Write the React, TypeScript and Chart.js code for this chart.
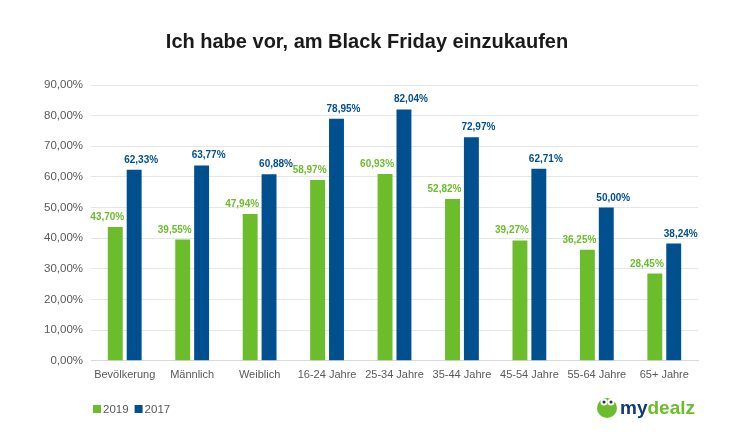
import { useEffect, useRef } from 'react';
import { Chart, registerables, Plugin } from 'chart.js';

Chart.register(...registerables);

const categories = [
  'Bevölkerung',
  'Männlich',
  'Weiblich',
  '16-24 Jahre',
  '25-34 Jahre',
  '35-44 Jahre',
  '45-54 Jahre',
  '55-64 Jahre',
  '65+ Jahre',
];
const values2019 = [43.7, 39.55, 47.94, 58.97, 60.93, 52.82, 39.27, 36.25, 28.45];
const values2017 = [62.33, 63.77, 60.88, 78.95, 82.04, 72.97, 62.71, 50.0, 38.24];
const yTicks = [0, 10, 20, 30, 40, 50, 60, 70, 80, 90];

const GREEN = '#6bbd2b';
const BLUE = '#00508f';
const FONT = '"Liberation Sans", Arial, sans-serif';

const fmt = (v: number) => v.toFixed(2).replace('.', ',') + '%';

// value labels above each bar, nudged outward like the original
const labelShift = [-8, 7];
const valueLabels: Plugin = {
  id: 'valueLabels',
  afterDatasetsDraw(chart) {
    const ctx = chart.ctx;
    ctx.save();
    ctx.font = `bold 10px ${FONT}`;
    ctx.textAlign = 'center';
    ctx.textBaseline = 'alphabetic';
    chart.data.datasets.forEach((ds, i) => {
      const meta = chart.getDatasetMeta(i);
      ctx.fillStyle = ds.backgroundColor as string;
      meta.data.forEach((bar: any, j) => {
        ctx.fillText(fmt(ds.data[j] as number), bar.x + labelShift[i], bar.y - 7);
      });
    });
    ctx.restore();
  },
};

// legend bottom-left and logo bottom-right
const footer: Plugin = {
  id: 'footer',
  afterDraw(chart) {
    const ctx = chart.ctx;
    const left = chart.chartArea.left;
    ctx.save();
    ctx.font = `11.5px ${FONT}`;
    ctx.textBaseline = 'middle';
    let x = left + 2;
    const y = 409;
    chart.data.datasets.forEach((ds) => {
      ctx.fillStyle = ds.backgroundColor as string;
      ctx.fillRect(x, y - 4, 8, 8);
      ctx.fillStyle = '#595959';
      ctx.fillText(ds.label as string, x + 10, y + 1);
      x += 10 + ctx.measureText(ds.label as string).width + 6;
    });

    // logo
    const lx = 607;
    const ly = 408;
    ctx.fillStyle = GREEN;
    ctx.beginPath();
    ctx.ellipse(lx, ly, 10, 10, 0, 0, Math.PI * 2);
    ctx.fill();
    ctx.fillStyle = '#ffffff';
    ctx.beginPath();
    ctx.arc(lx - 3, ly - 6, 3.5, 0, Math.PI * 2);
    ctx.arc(lx + 4, ly - 6, 3.5, 0, Math.PI * 2);
    ctx.fill();
    ctx.fillStyle = '#1b2f5a';
    ctx.beginPath();
    ctx.arc(lx - 3, ly - 6, 1.5, 0, Math.PI * 2);
    ctx.arc(lx + 4, ly - 6, 1.5, 0, Math.PI * 2);
    ctx.fill();
    ctx.font = `bold 19px ${FONT}`;
    ctx.fillStyle = '#103a75';
    ctx.fillText('my', lx + 13, ly + 1);
    const w = ctx.measureText('my').width;
    ctx.fillStyle = GREEN;
    ctx.fillText('dealz', lx + 13 + w, ly + 1);
    ctx.restore();
  },
};

export default function App() {
  const canvasRef = useRef<HTMLCanvasElement>(null);
  const chartRef = useRef<Chart | null>(null);

  useEffect(() => {
    document.body.style.margin = '0';
    if (!canvasRef.current) return;
    if (chartRef.current) chartRef.current.destroy();

    chartRef.current = new Chart(canvasRef.current, {
      type: 'bar',
      data: {
        labels: categories,
        datasets: [
          { label: '2019', data: values2019, backgroundColor: GREEN },
          { label: '2017', data: values2017, backgroundColor: BLUE },
        ],
      },
      options: {
        animation: false,
        responsive: true,
        maintainAspectRatio: false,
        layout: { padding: { left: 36, right: 47, bottom: 58, top: 0 } },
        datasets: {
          bar: { categoryPercentage: 0.56, barPercentage: 0.79 },
        },
        plugins: {
          legend: { display: false },
          tooltip: { enabled: false },
          title: {
            display: true,
            text: 'Ich habe vor, am Black Friday einzukaufen',
            color: '#1a1a1a',
            font: { family: FONT, size: 20, weight: 'bold' },
            padding: { top: 30, bottom: 31 },
          },
        },
        scales: {
          x: {
            grid: { display: false, drawTicks: false },
            border: { color: '#d9d9d9' },
            ticks: {
              color: '#595959',
              font: { family: FONT, size: 11 },
              padding: 8,
              maxRotation: 0,
              autoSkip: false,
            },
          },
          y: {
            min: 0,
            max: 90,
            afterBuildTicks: (axis) => {
              axis.ticks = yTicks.map((v) => ({ value: v }));
            },
            grid: { color: '#e6e6e6', drawTicks: false },
            border: { display: false },
            ticks: {
              color: '#595959',
              font: { family: FONT, size: 11.5 },
              padding: 8,
              callback: (v) => fmt(Number(v)),
            },
          },
        },
      },
      plugins: [valueLabels, footer],
    });

    return () => {
      if (chartRef.current) {
        chartRef.current.destroy();
        chartRef.current = null;
      }
    };
  }, []);

  return (
    <div style={{ width: 745, height: 448, position: 'relative', background: '#fff' }}>
      <canvas ref={canvasRef} />
    </div>
  );
}
